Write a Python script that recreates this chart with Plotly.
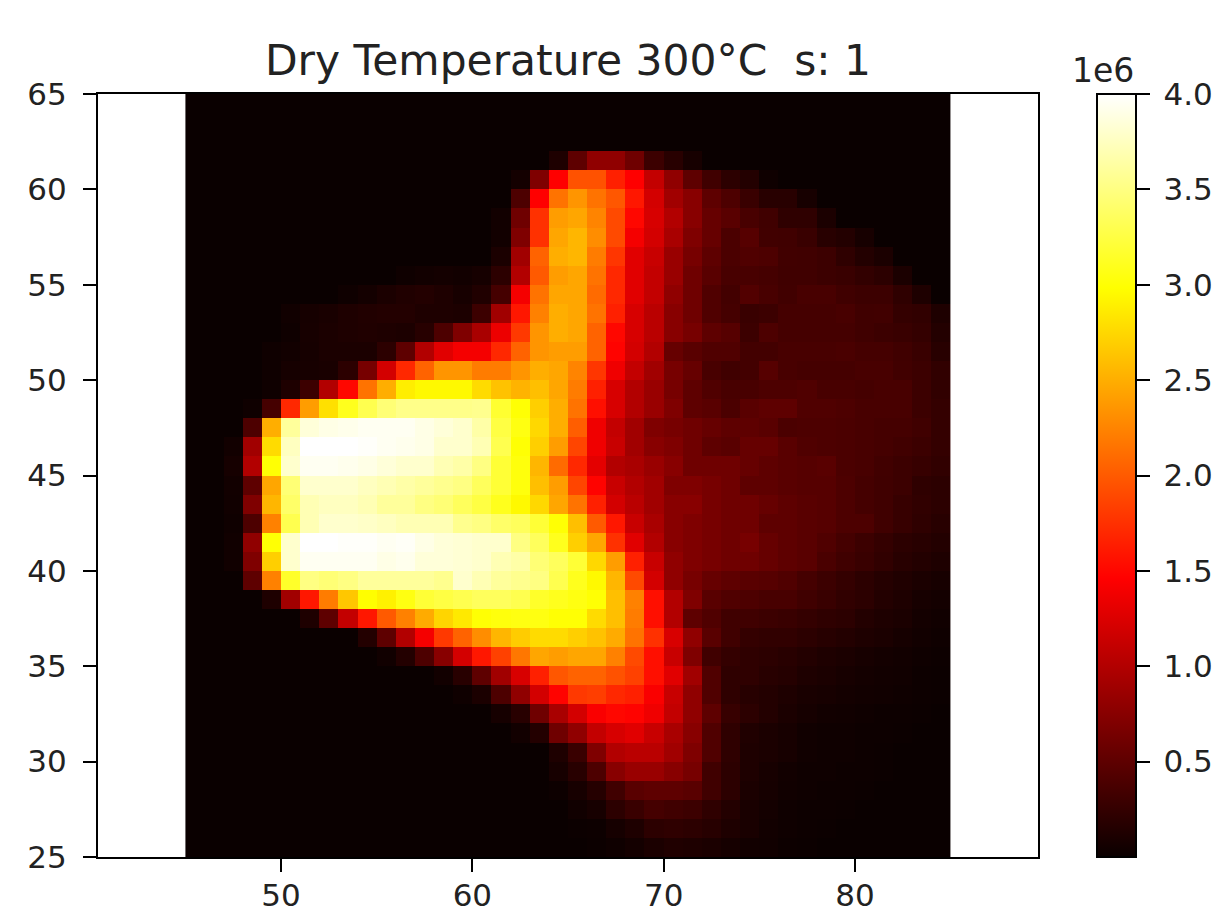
import numpy as np
import plotly.graph_objects as go

TITLE = "Dry Temperature 300°C  s: 1"
SCALE = 1e5
X_EDGE_START = 45
Y_TOP = 65
x_ticks = [50, 60, 70, 80]
y_ticks = [25, 30, 35, 40, 45, 50, 55, 60, 65]
cbar_vals = [0.5, 1.0, 1.5, 2.0, 2.5, 3.0, 3.5, 4.0]

# values in units of 1e5, rows top (y=65) to bottom (y=25), columns x=45..64
left_rows = [
[0,0,0,0,0,0,0,0,0,0,0,0,0,0,0,0,0,0,0,0],
[0,0,0,0,0,0,0,0,0,0,0,0,0,0,0,0,0,0,0,0],
[0,0,0,0,0,0,0,0,0,0,0,0,0,0,0,0,0,0,0,0],
[0,0,0,0,0,0,0,0,0,0,0,0,0,0,0,0,0,0,0,1.2],
[0,0,0,0,0,0,0,0,0,0,0,0,0,0,0,0,0,.6,7,14.6],
[0,0,0,0,0,0,0,0,0,0,0,0,0,0,0,0,0,4,14.6,21.5],
[0,0,0,0,0,0,0,0,0,0,0,0,0,0,0,0,.5,6,17.5,24],
[0,0,0,0,0,0,0,0,0,0,0,0,0,0,0,0,.5,7,17.5,24.5],
[0,0,0,0,0,0,0,0,0,0,0,0,0,0,0,0,1,9,20.5,25],
[0,0,0,0,0,0,0,0,0,0,0,.3,.5,.6,.5,.7,2,10,20,24],
[0,0,0,0,0,0,0,0,.3,.6,1,1.3,1.5,1.2,.8,1.3,3.5,14,21.5,24.5],
[0,0,0,0,0,.4,.7,.9,1.2,1.4,1.5,1.5,1.2,1.2,1.1,3,9,16,22.3,25],
[0,0,0,0,0,.3,.8,1,1.2,1.3,1.2,1.1,1.7,4,7,9.5,13.5,18,23.5,25],
[0,0,0,0,.3,.5,.7,1,1,1,2,5,10,12.8,14,14,17,20.5,23.5,24],
[0,0,0,0,.3,.7,.8,.9,2,6.5,12,17,20.5,23.5,23.5,22,22,23.5,25,24.5],
[0,0,0,0,.3,1.2,3,10,15,21.5,25,28.8,29.5,29.5,29.5,27.7,26.2,25.3,26,24.5],
[0,0,0,.3,3.5,17,24,28,31,33,34.5,35.3,35.3,35.3,35.3,35.5,31.8,30,27,25],
[0,0,0,4,25,36,38.5,39,39.2,39.5,39.5,39.5,39,38.5,38,36.5,32.5,30.5,27.5,25],
[0,0,.5,9,27.7,37.5,40,40,40,39.8,39.5,39.3,39,38,38,37,33,30,27,24],
[0,0,.7,10,30,38,39.5,39.5,39.3,39,38.5,38,38,37,36.5,35,32,30.3,25.5,21],
[0,0,.5,5,24.5,34.5,38,38,38,37.5,37,36.5,36,35.5,35,33.5,32,30.3,26,24],
[0,0,.4,7,25.5,34,37,37.5,37.5,37,36,36,35,34.5,33.5,32.5,31,29.5,27.5,24.5],
[0,0,.3,4,22.3,33,37,38,38,37.8,37.5,37,37,37,35.5,35,34,33.5,32,30],
[0,0,.4,8,30,38,40,40,39.8,39.8,39.5,39.7,39,38.5,38.3,38,38,35,33.5,31],
[0,0,.4,7,27,38,39.5,39.5,39.5,39.5,39,39.3,38.5,38.5,38.3,38,37,36.5,34.5,33.5],
[0,0,0,5,22.3,31.5,35,34.5,35,36,36,36,36,35.5,38,37,36,35.5,35,33],
[0,0,0,0,1.2,9,16,22,26.5,29.8,29,30.5,32,32.5,33,33.5,33.5,33,31.5,31],
[0,0,0,0,0,0,1.2,5,11,16,20,22.3,24.8,27.3,28.5,30,30.3,30.5,30.5,30],
[0,0,0,0,0,0,0,0,0,1.5,5,10,14,18,20.5,23,25.5,26.8,27.7,27.7],
[0,0,0,0,0,0,0,0,0,0,.4,1.5,4,7.5,12,16,18.5,21.7,24.5,24],
[0,0,0,0,0,0,0,0,0,0,0,0,0,.5,1.8,5,9,12.3,16.5,19.8],
[0,0,0,0,0,0,0,0,0,0,0,0,0,0,.3,1,4,8,12,14.8],
[0,0,0,0,0,0,0,0,0,0,0,0,0,0,0,0,.7,1.8,6,9.5],
[0,0,0,0,0,0,0,0,0,0,0,0,0,0,0,0,0,.5,1.5,6],
[0,0,0,0,0,0,0,0,0,0,0,0,0,0,0,0,0,0,0,1.2],
[0,0,0,0,0,0,0,0,0,0,0,0,0,0,0,0,0,0,0,.8],
[0,0,0,0,0,0,0,0,0,0,0,0,0,0,0,0,0,0,0,.2],
[0,0,0,0,0,0,0,0,0,0,0,0,0,0,0,0,0,0,0,0],
[0,0,0,0,0,0,0,0,0,0,0,0,0,0,0,0,0,0,0,0],
[0,0,0,0,0,0,0,0,0,0,0,0,0,0,0,0,0,0,0,0],
]

# columns x=65..84
right_rows = [
[0,0,0,0,0,0,0,0,0,0,0,0,0,0,0,0,0,0,0,0],
[0,0,0,0,0,0,0,0,0,0,0,0,0,0,0,0,0,0,0,0],
[0,0,0,0,0,0,0,0,0,0,0,0,0,0,0,0,0,0,0,0],
[5,8,8,6,3,1.8,.8,0,0,0,0,0,0,0,0,0,0,0,0,0],
[19.5,19.5,16.5,14.6,11,8,5,3.2,2,1.5,.3,0,0,0,0,0,0,0,0,0],
[23.5,21.5,19.8,16,12,9,7.5,5,4,2.8,1.8,1.8,.8,0,0,0,0,0,0,0],
[24.5,22.5,19,15,12.2,10,7.5,5.5,4.7,3.7,3.2,2.2,2.2,1,0,0,0,0,0,0],
[25.5,23,19,14,12,9.5,7,5.5,3.9,4.5,3.3,3.2,2.8,1.8,1.5,.8,0,0,0,0],
[25.5,22,17.8,12.8,11.3,8.5,6.5,5,3.9,4.2,4,3.3,3.2,3,2.2,1.5,1,0,0,0],
[24.5,21.5,17,12.8,11,8.5,6,4.7,3.7,3.7,3.5,3.2,3.2,3,2.8,2.4,2,1,0,0],
[24.5,21,17,12.8,11,8,6,4.2,3.4,4.3,3.7,3.3,3.7,3.7,3.2,3,3,2.2,1.2,0],
[24.5,21.5,16.5,12.2,10.5,7.5,6,4.2,3.5,2.8,3,3.5,3.5,3.5,3.7,3.2,3.3,2.5,2.3,1.2],
[24.5,20.5,15,12.2,10.5,7.5,6.5,5,4.5,3,4,3.5,3.5,3.5,3.5,3.2,3,2.8,2.5,1.5],
[24,20.5,14.8,12,10,5.5,4.7,4.2,4.2,3.4,3.4,3.7,3.7,3.7,3.8,3.5,3.5,3.2,2.8,1.8],
[22.5,17.8,13.7,11,9,6.5,5.5,3.7,3.2,3.4,4.5,3.7,3.5,3.5,3.5,3.7,3.7,3.3,3,2.3],
[22,16.5,12.2,10,8.5,6.5,5,4.2,3.7,3.7,4,4,4.2,3.7,3.7,3.5,3.7,3.7,3,2.3],
[21.5,15.5,12.2,10,8.5,7,5,4.7,3.9,4.7,5,5,4.2,4.2,4,3.7,3.7,3.7,3,2.5],
[20.2,13.7,11,9,7,6.5,6,5.5,5,5,4.7,3.9,4,4,3.9,3.7,3.5,3.5,3.2,2.5],
[18.7,13.7,11.3,9,7.5,7,6,5,4.7,5.5,5.5,4.7,4.2,4,3.9,3.7,3.5,3.3,3,2.5],
[17,13,10,9.5,8.5,7.5,6,6,6,5.5,5,4.7,4.5,4.7,3.9,3.7,3.3,3,2.7,2.3],
[18.7,14.8,11.3,10,9,7,7,6.5,6,5,5,4.7,4.5,4.5,4,3.5,3.2,3,2.2,2],
[21.5,16.5,12,10.5,9,7.5,7.5,6.5,6,6,5.5,5,4.7,4.5,4,3.5,3.2,2.7,2.3,2],
[26,20,16,11.3,9.5,7.5,7,6.5,6,6,5,5,4.7,4.5,4,4,3.2,2.7,2.2,1.8],
[27,24.5,17.5,12.8,10,7.5,7,6.5,6,6.5,5.5,5,4.7,4.2,3.5,3,2.5,2,1.8,1.5],
[32,27.5,24,16.5,11.3,8,7,6.5,6,6,5.5,5,4.7,3.8,3.2,2.8,2.3,1.8,1.5,1.2],
[31,29.5,25.5,19,12,8,6.5,5.5,5,4.7,4.5,4.2,3.5,3,2.5,2,1.6,1.3,1,.8],
[30.5,30,26,22.3,15.5,10,7,4.7,4.2,4,3.7,3.7,3.2,2.8,2.3,2,1.5,1.2,.8,.6],
[30,27.7,26,22,15.5,10,5,4.2,3.2,3.2,3,2.8,2.5,2.2,2,1.5,1.2,1,.6,.4],
[27,26.2,24.8,21.5,17.5,12.3,8,4.7,3.2,2.5,2.3,2.3,2,1.7,1.5,1.2,1,.7,.5,.3],
[24.5,24.5,22.3,19,15.5,11.3,7,3.2,2.5,2.2,2,1.8,1.5,1.2,1,.8,.6,.5,.3,.2],
[20.5,20.5,19.5,18.5,15.5,12.8,9,4.2,2.2,2.2,1.8,1.6,1.2,1,.8,.6,.5,.4,.2,.1],
[18,18.3,17,16.5,14.3,11.3,8,4.2,2.2,1.7,1.5,1.2,.9,.8,.6,.5,.4,.3,.2,.1],
[12,14.3,15,14.8,13.7,11,8,5,2.7,2,1.5,1,.7,.5,.4,.3,.2,.2,.1,0],
[8,11,12.2,12.8,11.3,9.5,7.5,4.2,2.2,1.3,1,.8,.4,.3,.3,.2,.2,.1,0,0],
[2.8,7,10,10.5,10.5,9,7,4.2,2.2,1.2,1,.8,.4,.3,.3,.2,.1,0,0,0],
[1.8,4,7.5,8.5,8.5,7.5,6.5,3.2,2,1.2,.8,.5,.3,.3,.2,.2,.1,0,0,0],
[.8,1.6,3.2,4.7,5,5,4.7,3.2,2,1,.7,.4,.3,.2,.2,.1,0,0,0,0],
[.4,.8,2,2.8,3.5,3.2,3,2.2,1.5,.9,.6,.3,.2,.2,.1,0,0,0,0,0],
[.1,.2,.7,1.2,2,2.2,2,1.7,1.2,.9,.5,.3,.2,.1,0,0,0,0,0,0],
[0,.1,.3,.6,1,1.3,1.2,1,.7,.5,.4,.2,.1,0,0,0,0,0,0,0],
]

z = np.hstack([np.array(left_rows, float), np.array(right_rows, float)]) * SCALE

hot_scale = [
    [0.0, "rgb(10,0,0)"],
    [0.365, "rgb(255,0,0)"],
    [0.746, "rgb(255,255,0)"],
    [1.0, "rgb(255,255,255)"],
]

W, H = 1222, 909
L, R, T, B = 98, 1038, 94, 857
TEXT = "#222222"
TICK_FONT = dict(family="DejaVu Sans", size=31, color=TEXT)

fig = go.Figure(go.Heatmap(
    z=z,
    x0=X_EDGE_START + 0.5, dx=1,
    y0=Y_TOP - 0.5, dy=-1,
    colorscale=hot_scale, zmin=0, zmax=4e6,
    colorbar=dict(
        thickness=39, thicknessmode="pixels",
        len=1, lenmode="fraction", y=0, yanchor="bottom",
        x=(1097 - L) / (R - L), xanchor="left", xpad=0, ypad=0,
        outlinewidth=2, outlinecolor="black",
        ticks="outside", ticklen=13, tickwidth=2, tickcolor="black",
        tickvals=[v * 1e6 for v in cbar_vals],
        ticktext=["\u2005" + f"{v:.1f}" for v in cbar_vals],
        tickfont=TICK_FONT,
    ),
))

axis_common = dict(
    showgrid=False, zeroline=False, showline=True, linecolor="black", linewidth=2,
    mirror=True, ticks="outside", ticklen=13, tickwidth=2, tickcolor="black",
    tickfont=TICK_FONT,
)

fig.update_layout(
    width=W, height=H, autosize=False,
    margin=dict(l=L, r=W - R, t=T, b=H - B, pad=0, autoexpand=False),
    paper_bgcolor="white", plot_bgcolor="white",
    title=dict(text=TITLE, x=(L + R) / 2 / W, xanchor="center", y=1 - 60 / H, yanchor="middle",
               font=dict(family="DejaVu Sans", size=42.4, color=TEXT)),
    xaxis=dict(range=[40.43, 89.57], tickvals=x_ticks, ticktext=[str(v) for v in x_ticks],
               ticklabelstandoff=-3, **axis_common),
    yaxis=dict(range=[25, 65], tickvals=y_ticks, ticktext=[str(v) for v in y_ticks],
               ticklabelstandoff=10, **axis_common),
    annotations=[dict(text="1e6", xref="paper", yref="paper",
                      x=(1103 - L) / (R - L), xanchor="center",
                      y=(B - 71) / (B - T), yanchor="middle", showarrow=False,
                      font=dict(family="DejaVu Sans", size=33, color=TEXT))],
)

fig.write_html("out.html", post_script="document.body.style.margin='0';",
               config=dict(displayModeBar=False))
